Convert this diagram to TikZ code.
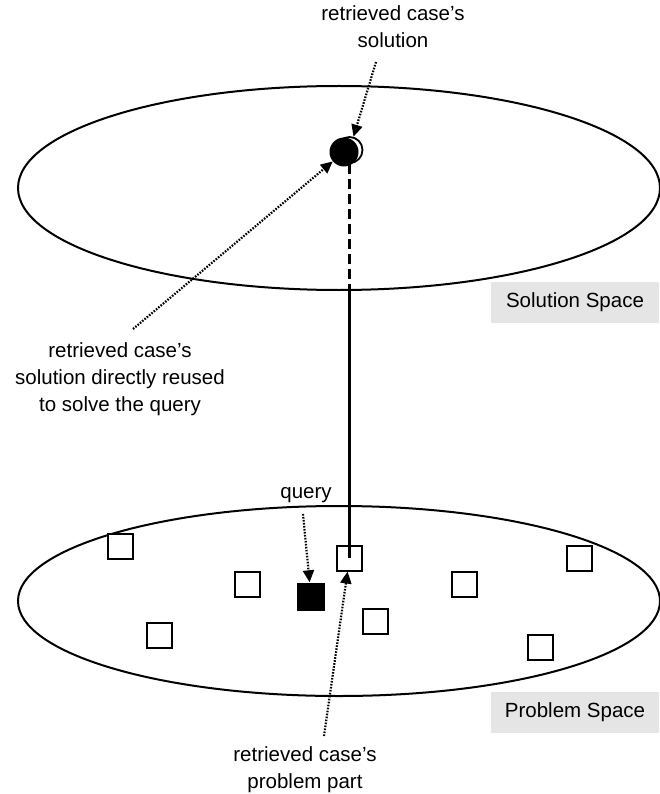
\documentclass[tikz,border=0pt]{standalone}
\usepackage{fontspec}
\setmainfont{Liberation Sans}
\usetikzlibrary{arrows.meta,shapes.geometric}
\begin{document}
\begin{tikzpicture}[x=1pt,y=-1pt,
  every node/.style={font=\fontsize{20.5}{27}\selectfont},
  space/.style={draw, ellipse, line width=2pt, inner sep=0pt},
  case/.style={draw, line width=2pt, minimum size=25pt, inner sep=0pt, fill=white},
  querybox/.style={fill=black, minimum size=28pt, inner sep=0pt},
  note/.style={align=center, inner sep=0pt},
  pointer/.style={line width=2.2pt, dash pattern=on 1.6pt off 1.4pt,
    -{Triangle[length=12pt,width=11pt]}},
  tag/.style={fill=black!10, minimum width=168pt, minimum height=41pt, inner sep=0pt},
  link/.style={line width=2.4pt},
]
\useasboundingbox (0,0) rectangle (659,794);

% the two spaces
\node[space, minimum width=642pt, minimum height=204pt] (solspace) at (339,188) {};
\node[space, minimum width=642pt, minimum height=190pt] (probspace) at (339,601) {};

% space captions
\node[tag] (soltag) at (575,302.5) {Solution Space};
\node[tag] (probtag) at (575,712.5) {Problem Space};

% stored cases in the problem space
\node[case] (c1) at (120.5,546) {};
\node[case] (c2) at (247.5,584) {};
\node[case] (c3) at (159,635) {};
\node[case] (c4) at (349.5,558) {};
\node[case] (c5) at (375.5,621.5) {};
\node[case] (c6) at (464.5,584) {};
\node[case] (c7) at (579,558) {};
\node[case] (c8) at (540.5,647) {};
\node[querybox] (q) at (311,596.5) {};

% retrieved solution
\node[circle, draw, line width=1.8pt, fill=white, minimum size=26pt, inner sep=0pt] (ring) at (349.5,150) {};
\node[circle, fill=black, minimum size=29pt, inner sep=0pt] (dot) at (344,152) {};

% link from the retrieved case to its solution: hidden part dashed
\coordinate (split) at (349.5,290);
\draw[link, dash pattern=on 10pt off 5pt] (ring.south) -- (split);
\draw[link] (split) -- (c4.center);

% annotations
\node[note] (soltext) at (393,27) {retrieved case's\\solution};
\node[note] (reusetext) at (120,379) {retrieved case's\\solution directly reused\\to solve the query};
\node[note] (querytext) at (306,495) {query};
\node[note] (probtext) at (305,770) {retrieved case's\\problem part};

\coordinate (solfrom) at (376,62);
\coordinate (reusefrom) at (133,329);
\coordinate (queryfrom) at (303,514);
\coordinate (probfrom) at (324,736);

\draw[pointer] (solfrom) -- (ring);
\draw[pointer] (reusefrom) -- (dot);
\draw[pointer] (queryfrom) -- (q);
\draw[pointer] (probfrom) -- (c4);
\end{tikzpicture}
\end{document}
